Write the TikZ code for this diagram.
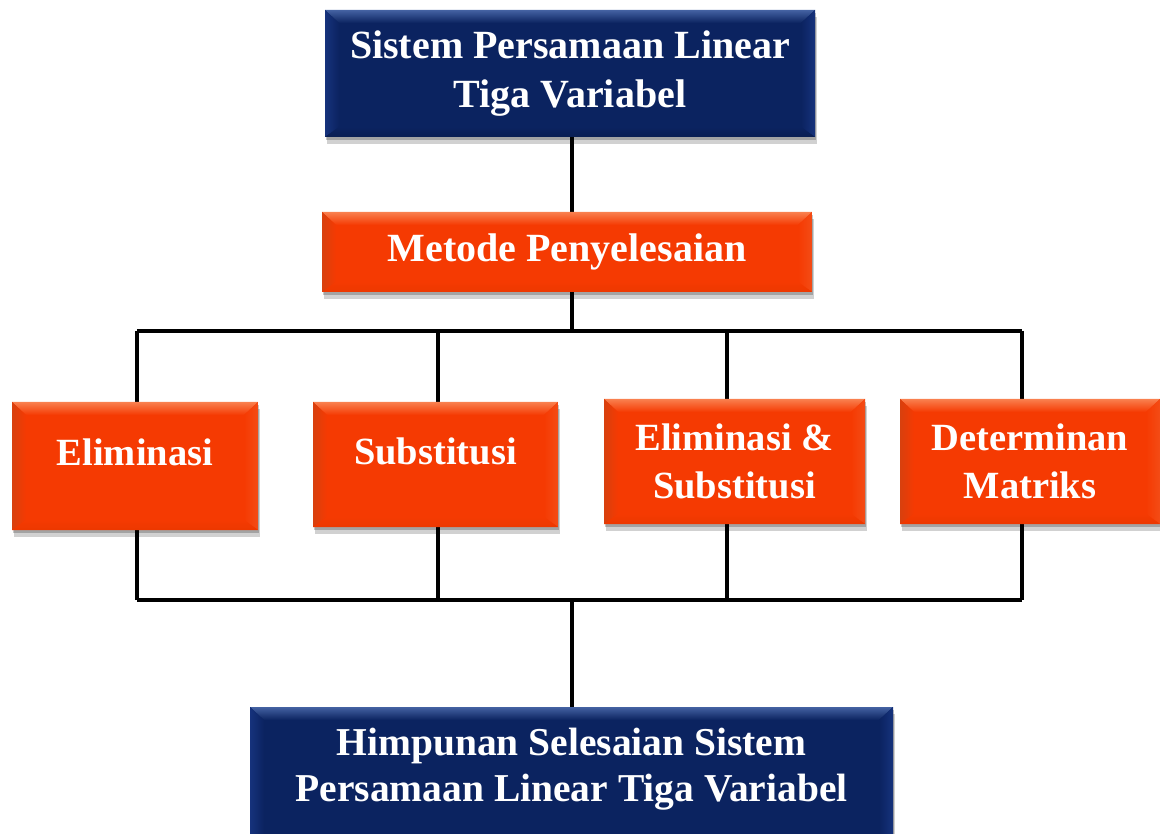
\documentclass[tikz,border=0pt]{standalone}
\usepackage{fontspec}
\setmainfont{Liberation Serif}
\usetikzlibrary{shadows,backgrounds,calc}
\definecolor{navy}{HTML}{0B2360}
\definecolor{navytop}{HTML}{4462A2}
\definecolor{navyside}{HTML}{16327C}
\definecolor{navybot}{HTML}{0A1E52}
\definecolor{org}{HTML}{F53A02}
\definecolor{orgtop}{HTML}{F9804F}
\definecolor{orgside}{HTML}{D8400E}
\definecolor{orgright}{HTML}{F44C16}
\definecolor{orgbot}{HTML}{EC3800}
\tikzset{
  bevel/.style n args={5}{
    fill=#1, draw=none,
    drop shadow={opacity=0.18, shadow xshift=2pt, shadow yshift=-7pt, fill=black},
    drop shadow={opacity=0.22, shadow xshift=1pt, shadow yshift=-3pt, fill=black},
    text=white, font=\bfseries, align=center, inner sep=0pt,
    path picture={
      \coordinate (nw) at (path picture bounding box.north west);
      \coordinate (ne) at (path picture bounding box.north east);
      \coordinate (sw) at (path picture bounding box.south west);
      \coordinate (se) at (path picture bounding box.south east);
      \shade[top color=#2, bottom color=#1] (nw) -- (ne) -- ($(ne)+(-14pt,-13pt)$) -- ($(nw)+(14pt,-13pt)$) -- cycle;
      \shade[left color=#3, right color=#1] (nw) -- ($(nw)+(14pt,-13pt)$) -- ($(sw)+(14pt,10pt)$) -- (sw) -- cycle;
      \shade[right color=#4, left color=#1] (ne) -- ($(ne)+(-14pt,-13pt)$) -- ($(se)+(-14pt,10pt)$) -- (se) -- cycle;
      \shade[bottom color=#5, top color=#1] (sw) -- ($(sw)+(14pt,10pt)$) -- ($(se)+(-14pt,10pt)$) -- (se) -- cycle;
    }},
  bluebox/.style={bevel={navy}{navytop}{navyside}{navyside}{navybot}},
  orangebox/.style={bevel={org}{orgtop}{orgside}{orgright}{orgbot}},
  conn/.style={line width=4pt, black}
}
\begin{document}
\begin{tikzpicture}[x=1pt,y=1pt]
\useasboundingbox (0,0) rectangle (1160,-834);
\node[bluebox, minimum width=490pt, minimum height=127pt,
  font=\bfseries\fontsize{40}{49}\selectfont] (top) at (570,-73.5)
  {Sistem Persamaan Linear\\Tiga Variabel};
\node[orangebox, minimum width=490pt, minimum height=80pt,
  font=\bfseries\fontsize{40}{48}\selectfont] (metode) at (567,-252)
  {Metode Penyelesaian};
\node[orangebox, minimum width=246pt, minimum height=128pt,
  text height=0pt, text depth=2pt,
  font=\bfseries\fontsize{38.5}{46}\selectfont] (elim) at (135,-466)
  {Eliminasi};
\node[orangebox, minimum width=245pt, minimum height=125pt,
  text height=0pt, text depth=0pt,
  font=\bfseries\fontsize{38.5}{46}\selectfont] (subs) at (435.5,-464.5)
  {Substitusi};
\node[orangebox, minimum width=261pt, minimum height=125pt,
  font=\bfseries\fontsize{38.5}{48}\selectfont] (es) at (734.5,-461.5)
  {Eliminasi \&\\Substitusi};
\node[orangebox, minimum width=260pt, minimum height=125pt,
  font=\bfseries\fontsize{38.5}{48}\selectfont] (det) at (1030,-461.5)
  {Determinan\\Matriks};
\node[bluebox, minimum width=643pt, minimum height=150pt,
  font=\bfseries\fontsize{39.5}{44}\selectfont] (hasil) at (571.5,-782)
  {\raisebox{11.5pt}{\smash{\begin{tabular}{@{}c@{}}Himpunan Selesaian Sistem\\[2pt]Persamaan Linear Tiga Variabel\end{tabular}}}};
\coordinate (a0) at (572,-331);
\coordinate (a1) at (137,-331);
\coordinate (a2) at (438,-331);
\coordinate (a3) at (727,-331);
\coordinate (a4) at (1022,-331);
\coordinate (b0) at (572,-600);
\coordinate (b1) at (137,-600);
\coordinate (b2) at (438,-600);
\coordinate (b3) at (727,-600);
\coordinate (b4) at (1022,-600);
\begin{scope}[on background layer]
\draw[conn] (a0 |- top.south) -- (a0 |- metode.north);
\draw[conn] (a0 |- metode.south) -- (a0);
\draw[conn] (a1) -- (a4);
\draw[conn] (a1) -- (a1 |- elim.north);
\draw[conn] (a2) -- (a2 |- subs.north);
\draw[conn] (a3) -- (a3 |- es.north);
\draw[conn] (a4) -- (a4 |- det.north);
\draw[conn] (b1) -- (b4);
\draw[conn] (b1) -- (b1 |- elim.south);
\draw[conn] (b2) -- (b2 |- subs.south);
\draw[conn] (b3) -- (b3 |- es.south);
\draw[conn] (b4) -- (b4 |- det.south);
\draw[conn] (b0) -- (b0 |- hasil.north);
\end{scope}
\end{tikzpicture}
\end{document}
